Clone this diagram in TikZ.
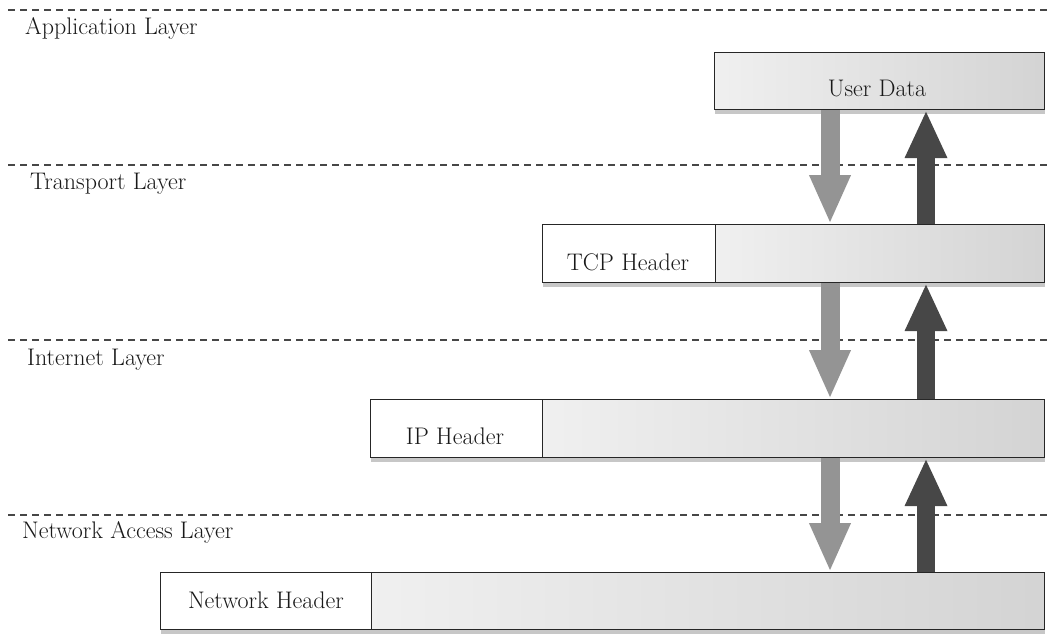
\documentclass[tikz,border=0pt]{standalone}
\usepackage{fontspec}
\usetikzlibrary{arrows.meta,shadows}
\begin{document}
\begin{tikzpicture}[x=1pt,y=-1pt,
  layerline/.style={dash pattern=on 7pt off 5pt, line width=1.2pt, draw=black!72},
  layertext/.style={anchor=base west, inner sep=0pt, text=black!90,
    font=\fontsize{24}{29}\selectfont},
  boxtext/.style={anchor=base, inner sep=0pt, text=black!90,
    font=\fontsize{24}{29}\selectfont},
  pdu/.style={draw=black!85, line width=1.1pt, inner sep=0pt, anchor=north west,
    drop shadow={shadow xshift=0pt, shadow yshift=-4pt, fill=black!22, opacity=1}},
  hdrbox/.style={pdu, fill=white},
  databox/.style={pdu, left color=black!6, right color=black!17},
  downflow/.style={line width=19pt, draw=black!42,
    -{Triangle[width=38pt,length=49pt]}},
  upflow/.style={line width=18pt, draw=black!72,
    -{Triangle[width=39pt,length=48pt]}},
]
\useasboundingbox (0,0) rectangle (1052,634);

% layer separators and names
\foreach \y in {10,165,340,515}
  \draw[layerline] (8,\y) -- (1052,\y);
\node[layertext] (lapp) at (25,35)  {Application Layer};
\node[layertext] (ltrn) at (30,189) {Transport Layer};
\node[layertext] (lint) at (27,365) {Internet Layer};
\node[layertext] (lnet) at (22,538) {Network Access Layer};

% protocol data units
\node[databox, minimum width=330pt, minimum height=57pt] (ud) at (714,52) {};
\node[boxtext] (udt) at (877,96) {User Data};

\node[hdrbox, minimum width=173pt, minimum height=58pt] (tcph) at (542,224) {};
\node[databox, minimum width=329pt, minimum height=58pt] (tcpd) at (715,224) {};
\node[boxtext] (tcpt) at (628,270) {TCP Header};

\node[hdrbox, minimum width=172pt, minimum height=58pt] (iph) at (370,399) {};
\node[databox, minimum width=502pt, minimum height=58pt] (ipd) at (542,399) {};
\node[boxtext] (ipt) at (455,444) {IP Header};

\node[hdrbox, minimum width=211pt, minimum height=57pt] (neth) at (160,572) {};
\node[databox, minimum width=673pt, minimum height=57pt] (netd) at (371,572) {};
\node[boxtext] (nett) at (266,608) {Network Header};

% encapsulation (down) and decapsulation (up) flows
\coordinate (dcol) at (830,0);
\coordinate (ucol) at (926,0);
\draw[downflow] (ud.south -| dcol) -- (tcpd.north -| dcol);
\draw[upflow]   (tcpd.north -| ucol) -- (ud.south -| ucol);
\draw[downflow] (tcpd.south -| dcol) -- (ipd.north -| dcol);
\draw[upflow]   (ipd.north -| ucol) -- (tcpd.south -| ucol);
\draw[downflow] (ipd.south -| dcol) -- (netd.north -| dcol);
\draw[upflow]   (netd.north -| ucol) -- (ipd.south -| ucol);
\end{tikzpicture}
\end{document}
